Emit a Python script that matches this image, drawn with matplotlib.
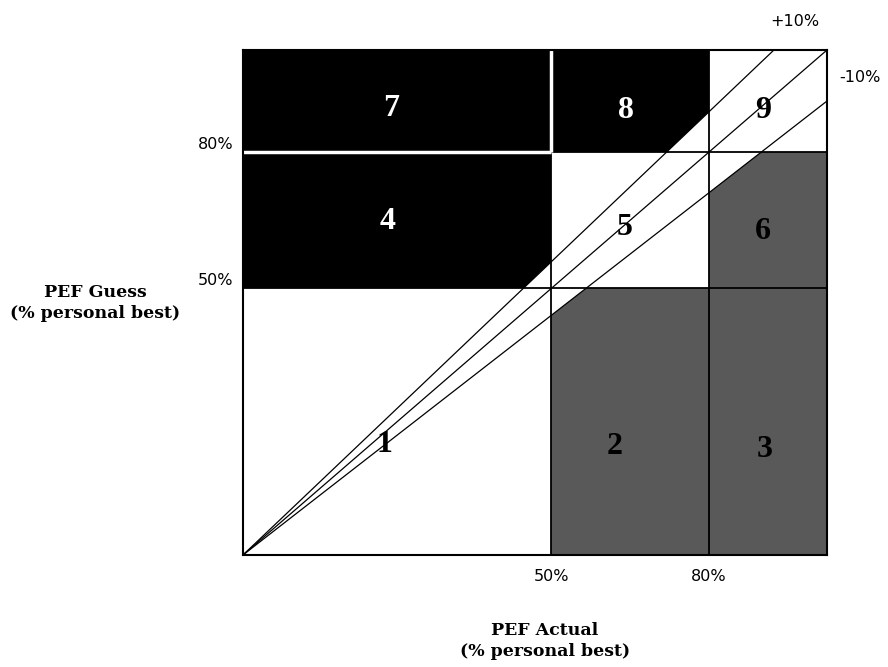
import numpy as np
import matplotlib
matplotlib.use('Agg')
import matplotlib.pyplot as plt
from matplotlib.patches import Rectangle, Polygon

# zone boundaries (% personal best), same on both axes
bounds = [0, 50, 80, 100]
tick_vals = [50, 80]
tick_labels = ['50%', '80%']

# zone numbers by (column, row) of the 3x3 grid
zone_ids = [[1, 4, 7], [2, 5, 8], [3, 6, 9]]
over_zones = [4, 7, 8]     # guess above actual -> black
under_zones = [2, 3, 6]    # guess below actual -> grey

# diagonal lines: guess = actual, +10%, -10%
diag_actual = [0, 100]
diag_guess = [0, 100]
hi_actual = [0, 91]
hi_guess = [0, 100]
lo_actual = [0, 100]
lo_guess = [0, 90]

# schematic axis: breakpoints are not evenly spaced on the page
brk_data = [-100, 0, 50, 80, 100, 200]
brk_pos = [-1.0, 0.0, 0.528, 0.798, 1.0, 2.0]


def fwd(v):
    return np.interp(v, brk_data, brk_pos)


def inv(v):
    return np.interp(v, brk_pos, brk_data)


fig = plt.figure(figsize=(8.88, 6.67), dpi=100)
ax = fig.add_axes([0.2736, 0.1679, 0.6577, 0.7571])
ax.set_xscale('function', functions=(fwd, inv))
ax.set_yscale('function', functions=(fwd, inv))
ax.set_xlim(0, 100)
ax.set_ylim(0, 100)

over_clip = Polygon([(hi_actual[0], hi_guess[0]), (hi_actual[1], hi_guess[1]), (0, 100)],
                    closed=True, transform=ax.transData)
under_clip = Polygon([(lo_actual[0], lo_guess[0]), (100, 0), (lo_actual[1], lo_guess[1])],
                     closed=True, transform=ax.transData)

for c in range(3):
    for r in range(3):
        z = zone_ids[c][r]
        x0, x1 = bounds[c], bounds[c + 1]
        y0, y1 = bounds[r], bounds[r + 1]
        if z in over_zones:
            p = ax.add_patch(Rectangle((x0, y0), x1 - x0, y1 - y0, facecolor='black',
                                       edgecolor='none', zorder=1))
            p.set_clip_path(over_clip)
        elif z in under_zones:
            p = ax.add_patch(Rectangle((x0, y0), x1 - x0, y1 - y0, facecolor='#595959',
                                       edgecolor='none', zorder=1))
            p.set_clip_path(under_clip)

# diagonals
for xs, ys in [(diag_actual, diag_guess), (hi_actual, hi_guess), (lo_actual, lo_guess)]:
    ax.plot(xs, ys, color='black', lw=0.9, zorder=2)

# zone borders
for b in tick_vals:
    ax.axvline(b, color='black', lw=1.3, zorder=3)
    ax.axhline(b, color='black', lw=1.3, zorder=3)
# white borders inside the black area
ax.plot([bounds[1], bounds[1]], [bounds[2], bounds[3]], color='white', lw=2.5, zorder=3.5,
        solid_capstyle='butt')
ax.plot([bounds[0], bounds[1]], [bounds[2], bounds[2]], color='white', lw=2.5, zorder=3.5,
        solid_capstyle='butt')

for s in ax.spines.values():
    s.set_linewidth(1.5)
    s.set_zorder(5)

# zone numbers
label_pos = {7: (0.253, 0.885), 8: (0.656, 0.881), 9: (0.890, 0.881),
             4: (0.247, 0.661), 5: (0.654, 0.648), 6: (0.890, 0.640),
             1: (0.243, 0.218), 2: (0.637, 0.214), 3: (0.894, 0.208)}
for z, (tx, ty) in label_pos.items():
    col = 'white' if z in over_zones else 'black'
    ax.text(tx, ty, str(z), transform=ax.transAxes, ha='center', va='center',
            fontsize=23, fontweight='bold', family='Liberation Serif', color=col, zorder=6)

ax.set_xticks(tick_vals, tick_labels)
ax.set_yticks(tick_vals, tick_labels)
ax.minorticks_off()
ax.tick_params(axis='x', length=0, pad=10, labelsize=11.5)
ax.tick_params(axis='y', length=0, pad=7, labelsize=11.5)
for lbl in ax.get_yticklabels():
    lbl.set_va('bottom')

fig.text(795 / 888, 1 - 22 / 667, '+10%', ha='center', va='center', fontsize=11.5)
fig.text(860 / 888, 1 - 77 / 667, '-10%', ha='center', va='center', fontsize=11.5)

fig.text(95 / 888, 1 - 303 / 667, 'PEF Guess\n(% personal best)', ha='center', va='center',
         fontsize=12.5, fontweight='bold', family='DejaVu Serif', linespacing=1.35)
fig.text(545 / 888, 1 - 641 / 667, 'PEF Actual\n(% personal best)', ha='center', va='center',
         fontsize=12.5, fontweight='bold', family='DejaVu Serif', linespacing=1.35)

fig.savefig('out.png', dpi=100)
